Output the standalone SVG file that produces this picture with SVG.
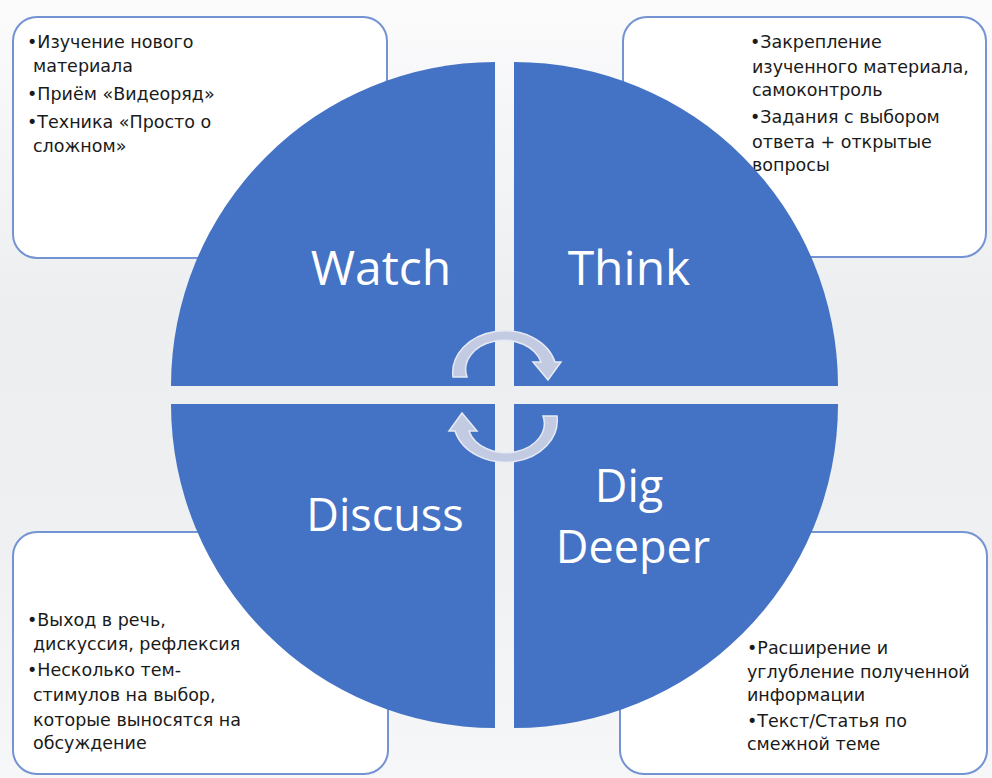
<svg xmlns="http://www.w3.org/2000/svg" width="992" height="778" viewBox="0 0 992 778">
<defs>
<linearGradient id="bg" x1="0" y1="0" x2="0" y2="1">
<stop offset="0" stop-color="#fbfbfc"/>
<stop offset="0.4" stop-color="#eceef0"/>
<stop offset="0.7" stop-color="#eef0f2"/>
<stop offset="1" stop-color="#f6f7f8"/>
</linearGradient>
</defs>
<style>
.box{fill:#ffffff;stroke:#7393d2;stroke-width:2}
.q{fill:#4472c4}
.big{font-family:"Open Sans","Liberation Sans",sans-serif;fill:#ffffff;text-anchor:middle}
.t{font-family:"DejaVu Sans","Liberation Sans",sans-serif;font-size:17.5px;fill:#1a1a1a}
.arr{fill:#c3cbe3;stroke:#e6eaf4;stroke-width:1.5}
</style>
<rect width="992" height="778" fill="url(#bg)"/>
<g id="box-watch">
<rect class="box" x="13" y="17" width="374" height="241" rx="24"/>
<text class="t"><tspan x="27" y="48">•Изучение нового</tspan><tspan x="33" y="72">материала</tspan><tspan x="27" y="100">•Приём «Видеоряд»</tspan><tspan x="27" y="128">•Техника «Просто о</tspan><tspan x="33" y="152">сложном»</tspan></text>
</g>
<g id="box-think">
<rect class="box" x="623" y="17" width="363" height="240" rx="24"/>
<text class="t"><tspan x="750" y="48">•Закрепление</tspan><tspan x="752" y="73">изученного материала,</tspan><tspan x="752" y="96">самоконтроль</tspan><tspan x="750" y="123">•Задания с выбором</tspan><tspan x="752" y="148">ответа + открытые</tspan><tspan x="752" y="171">вопросы</tspan></text>
</g>
<g id="box-discuss">
<rect class="box" x="13" y="532" width="375" height="242" rx="24"/>
<text class="t"><tspan x="27" y="626">•Выход в речь,</tspan><tspan x="33" y="650">дискуссия, рефлексия</tspan><tspan x="27" y="676">•Несколько тем-</tspan><tspan x="33" y="701">стимулов на выбор,</tspan><tspan x="33" y="726">которые выносятся на</tspan><tspan x="33" y="749">обсуждение</tspan></text>
</g>
<g id="box-dig">
<rect class="box" x="620" y="532" width="367" height="242" rx="24"/>
<text class="t"><tspan x="747" y="654">•Расширение и</tspan><tspan x="747" y="678">углубление полученной</tspan><tspan x="747" y="701">информации</tspan><tspan x="747" y="727">•Текст/Статья по</tspan><tspan x="747" y="750">смежной теме</tspan></text>
</g>
<g id="q-watch">
<path class="q" d="M495,386 L171,386 A324,324 0 0 1 495,62 Z"/>
<text class="big" x="381" y="285" font-size="48">Watch</text>
</g>
<g id="q-think">
<path class="q" d="M514,386 L514,62 A324,324 0 0 1 838,386 Z"/>
<text class="big" x="629" y="285" font-size="48">Think</text>
</g>
<g id="q-dig">
<path class="q" d="M514,404 L838,404 A324,324 0 0 1 514,728 Z"/>
<text class="big" x="629" y="502" font-size="45">Dig</text>
<text class="big" x="633" y="563" font-size="45">Deeper</text>
</g>
<g id="q-discuss">
<path class="q" d="M495,404 L495,728 A324,324 0 0 1 171,404 Z"/>
<text class="big" x="385" y="531" font-size="45">Discuss</text>
</g>
<g id="connectors">
<path class="arr" d="M453,377 A52,42 0 0 1 555,362 L561,362 L548,380 L533,362 L541,362 A38,29 0 0 0 467,377 Z"/>
<path class="arr" d="M557,416 A52,42 0 0 1 455,431 L449,431 L462,413 L477,431 L469,431 A38,29 0 0 0 543,416 Z"/>
</g>
</svg>
